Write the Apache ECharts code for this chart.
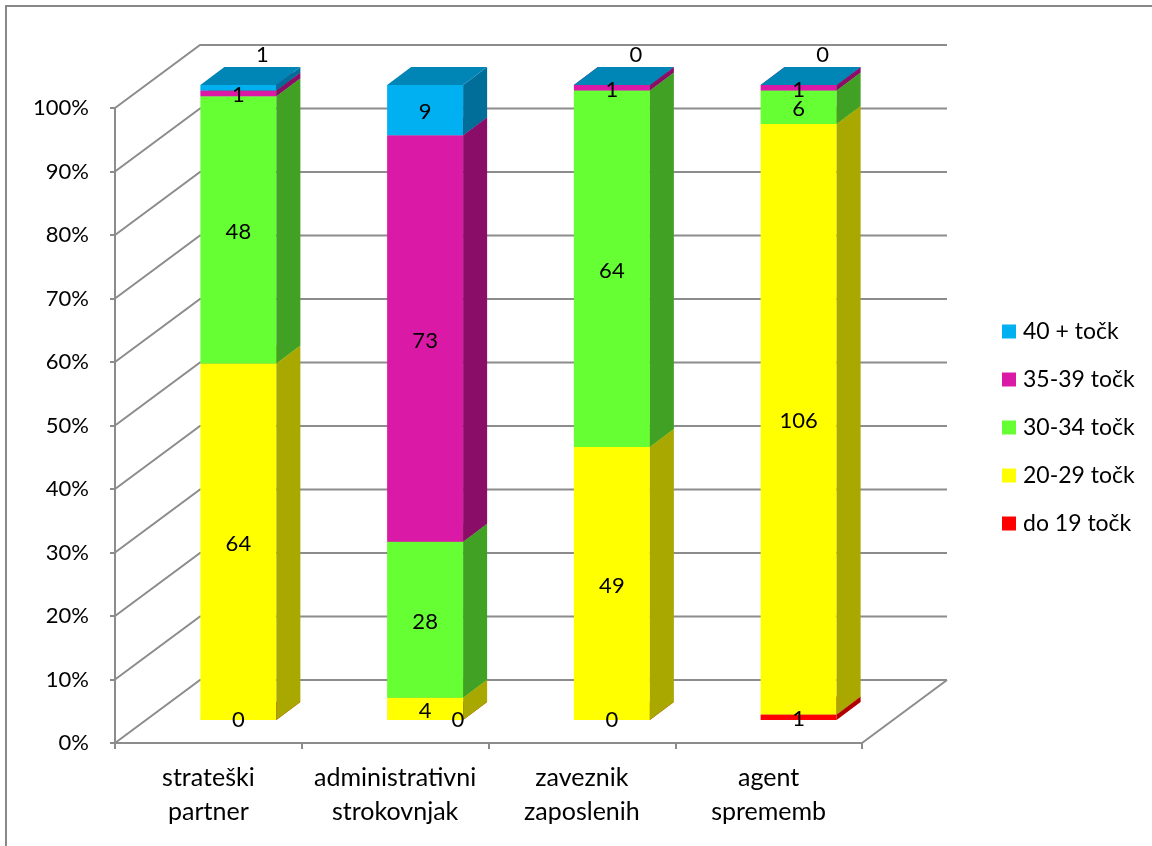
<!DOCTYPE html>
<html>
<head>
<meta charset="utf-8">
<script src="https://cdn.jsdelivr.net/npm/echarts@6/dist/echarts.min.js"></script>
<style>
  html, body { margin: 0; padding: 0; background: #fff; }
  #chart { width: 1152px; height: 846px; }
</style>
</head>
<body>
<div id="chart"></div>
<script>
// kategorije in število oseb po razredih točk
const categories = ['strateški\npartner', 'administrativni\nstrokovnjak', 'zaveznik\nzaposlenih', 'agent\nsprememb'];
const do19 = [0, 0, 0, 1];
const t20_29 = [64, 4, 49, 106];
const t30_34 = [48, 28, 64, 6];
const t35_39 = [1, 73, 1, 1];
const t40plus = [1, 9, 0, 0];
const yTicks = [0, 10, 20, 30, 40, 50, 60, 70, 80, 90, 100];

const seriesNames = ['do 19 točk', '20-29 točk', '30-34 točk', '35-39 točk', '40 + točk'];
const values = [do19, t20_29, t30_34, t35_39, t40plus];
const colors = [
  { front: '#FF0000', side: '#B20000', top: '#C00000' },
  { front: '#FFFF00', side: '#A8A800', top: '#C8C800' },
  { front: '#66FF33', side: '#41A125', top: '#4CC02A' },
  { front: '#DA1AA6', side: '#8A0E68', top: '#A8127E' },
  { front: '#00B0F0', side: '#006E98', top: '#0086B6' }
];

// 3D izgled
const FONT = 'Lato';
const DX = 85, DY = -63;      // globina ozadja
const BAR_OX = 30, BAR_OY = -23;  // zamik stolpca v globino
const SX = 24, SY = -18;      // globina stolpca
const BAR_W = 0.407;

const totals = categories.map((c, i) => values.reduce((s, arr) => s + arr[i], 0));

// segmenti (v %)
const segData = values.map(() => []);
const labelData = [];
categories.forEach((c, i) => {
  let cum = 0;
  values.forEach((arr, s) => {
    const lo = cum / totals[i] * 100;
    cum += arr[i];
    const hi = cum / totals[i] * 100;
    segData[s].push([i, lo, hi, arr[i]]);
    labelData.push([i, lo, hi, arr[i], s]);
  });
});

function makeBox(s) {
  return function (params, api) {
    const c = colors[s];
    const p0 = api.coord([api.value(0), api.value(1)]);
    const p1 = api.coord([api.value(0), api.value(2)]);
    const w = api.size([1, 0])[0] * BAR_W;
    const x0 = p0[0] - w / 2 + BAR_OX, x1 = x0 + w;
    const yb = p0[1] + BAR_OY, yt = p1[1] + BAR_OY;
    return {
      type: 'group',
      children: [
        { type: 'rect', shape: { x: x0, y: yt, width: w, height: yb - yt }, style: { fill: c.front } },
        { type: 'polygon', shape: { points: [[x1, yb], [x1 + SX, yb + SY], [x1 + SX, yt + SY], [x1, yt]] }, style: { fill: c.side } },
        { type: 'polygon', shape: { points: [[x0, yt], [x1, yt], [x1 + SX, yt + SY], [x0 + SX, yt + SY]] }, style: { fill: c.top } }
      ]
    };
  };
}

function renderFrame(params, api) {
  const cs = params.coordSys;
  const y = api.coord([0, api.value(1)])[1];
  const st = { stroke: '#8c8c8c', lineWidth: 2, fill: null };
  const children = [
    { type: 'polyline', shape: { points: [[cs.x, y], [cs.x + DX, y + DY], [cs.x + cs.width + DX, y + DY]] }, style: st }
  ];
  if (api.value(1) === 0) {
    children.push({ type: 'line', shape: { x1: cs.x + cs.width, y1: y, x2: cs.x + cs.width + DX, y2: y + DY }, style: st });
  }
  return { type: 'group', children: children };
}

function renderLabel(params, api) {
  const cat = api.value(0), val = api.value(3), s = api.value(4);
  const p0 = api.coord([cat, api.value(1)]);
  const p1 = api.coord([cat, api.value(2)]);
  const w = api.size([1, 0])[0] * BAR_W;
  let x = p0[0] + BAR_OX;
  let y = (p0[1] + p1[1]) / 2 + BAR_OY + 2;
  if (s === values.length - 1 && p0[1] - p1[1] < 15) {
    x += SX;
    y = p1[1] + BAR_OY + SY - 12;
  } else if (val === 0 && s === 0) {
    y = p0[1] + BAR_OY;
    const nextH = api.size([0, values[1][cat] / totals[cat] * 100])[1];
    if (nextH < 30) x += w * 0.43;
  }
  return {
    type: 'text',
    x: x, y: y,
    style: { text: String(val), fill: '#000', font: '22px ' + FONT, align: 'center', verticalAlign: 'middle' }
  };
}

const chart = echarts.init(document.getElementById('chart'));

const series = [{
  type: 'custom',
  name: 'frame',
  z: 1,
  silent: true,
  renderItem: renderFrame,
  data: yTicks.map(v => [0, v]),
  encode: { x: 0, y: 1 }
}];
values.forEach((arr, s) => {
  series.push({
    type: 'custom',
    name: seriesNames[s],
    z: 2,
    itemStyle: { color: colors[s].front },
    renderItem: makeBox(s),
    data: segData[s],
    encode: { x: 0, y: [1, 2] }
  });
});
series.push({
  type: 'custom',
  name: 'labels',
  z: 5,
  silent: true,
  renderItem: renderLabel,
  data: labelData,
  encode: { x: 0, y: [1, 2] }
});

chart.setOption({
  animation: false,
  textStyle: { fontFamily: FONT },
  graphic: [{
    type: 'rect',
    shape: { x: 6, y: 6, width: 1300, height: 1000 },
    style: { fill: null, stroke: '#888', lineWidth: 2 },
    z: 0
  }],
  grid: { left: 115, right: 290, top: 108, bottom: 103 },
  legend: {
    orient: 'vertical',
    left: 997,
    top: 315,
    icon: 'rect',
    itemWidth: 14,
    itemHeight: 14,
    itemGap: 25,
    data: ['40 + točk', '35-39 točk', '30-34 točk', '20-29 točk', 'do 19 točk'],
    textStyle: { fontFamily: FONT, fontSize: 23, color: '#000', lineHeight: 23, padding: [0, 0, 0, 2] }
  },
  xAxis: {
    type: 'category',
    data: categories,
    axisLine: { lineStyle: { color: '#8c8c8c', width: 2 } },
    axisTick: { show: true, interval: 0, length: 6, lineStyle: { color: '#8c8c8c', width: 2 } },
    axisLabel: { interval: 0, color: '#000', fontSize: 25, fontFamily: FONT, lineHeight: 34, margin: 18 },
    splitLine: { show: false }
  },
  yAxis: {
    type: 'value',
    min: 0,
    max: 100,
    interval: 10,
    axisLine: { show: true, lineStyle: { color: '#8c8c8c', width: 2 } },
    axisTick: { show: true, length: 5, lineStyle: { color: '#8c8c8c', width: 2 } },
    axisLabel: { formatter: '{value}%', color: '#000', fontSize: 22, fontFamily: FONT, margin: 26 },
    splitLine: { show: false }
  },
  series: series
});
</script>
</body>
</html>
